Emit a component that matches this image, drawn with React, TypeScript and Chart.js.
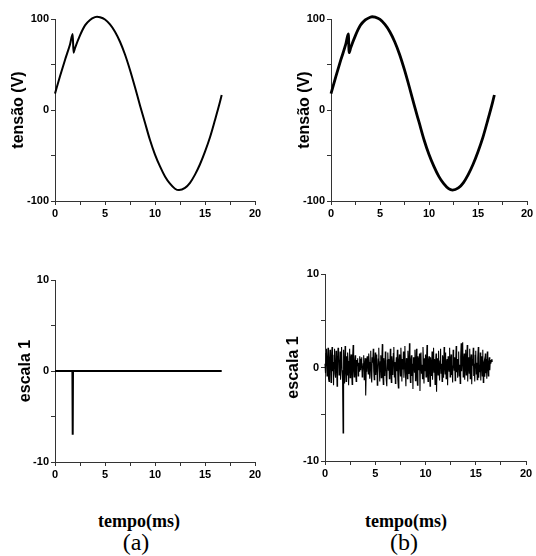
import React, { useEffect, useRef } from 'react';
import { Chart, registerables } from 'chart.js';

Chart.register(...registerables);

// ---- data ----
const TIME_MAX = 20;
const SAMPLE_STEP = 0.05; // ms between noise samples

const SINE_T = [0, 0.5, 1.0, 1.5, 1.77, 1.85, 2.0, 2.5, 3.0, 3.5, 4.0, 4.2, 4.5, 5.0, 5.5, 6.0, 6.5, 7.0, 7.5, 8.0, 8.5, 9.0, 9.5, 10.0, 10.5, 11.0, 11.5, 12.0, 12.4, 13.0, 13.5, 14.0, 14.5, 15.0, 15.5, 16.0, 16.5, 16.67];
const SINE_V = [18, 37, 55, 72, 83.5, 63, 68, 82, 93, 99, 102, 102.5, 102, 99.5, 94, 86, 75, 61, 44, 25, 5, -14, -33, -49, -62, -73, -81, -86.5, -88, -85.6, -80, -71, -59.6, -45.8, -30, -11, 9, 16.5];

const SCALE1_T = [0, 1.74, 1.77, 1.8, 16.67];
const SCALE1_V = [0, 0, -7, 0, 0];

const NOISY_SCALE1_V = [
  0.4, -0.6, 1.5, 2.0, -0.9, 0.3, 2.1, -1.2, -1.5, 0.8,
  1.9, 0.2, -1.6, 1.1, 2.2, -0.4, 0.6, -1.9, 1.3, 2.0,
  -0.7, -1.1, 1.8, 0.5, -2.0, 0.9, 2.1, 1.0, -0.8, 0.2,
  1.7, -1.3, 0.6, 2.2, -0.3, -1.4, -7.0, 1.9, 0.4, -1.7,
  2.3, 0.1, -1.5, 1.2, -0.8, 1.6, 0.7, -1.9, 0.3, 2.0,
  -1.1, 0.9, 1.4, -0.5, -1.8, 1.1, 2.4, -0.2, -1.0, 0.6,
  1.3, -0.6, -1.5, 0.8, 0.2, 1.0, -0.9, 0.5, -0.4, 1.2,
  0.9, -0.3, 0.7, 1.1, -1.0, -0.5, 0.4, 1.3, -1.3, 0.2,
  1.0, -3.0, -0.4, 0.8, 1.2, 0.1, -0.7, 1.5, 0.6, -1.2,
  0.3, 1.8, -0.9, -1.6, 1.1, 0.5, 2.0, -0.4, -1.3, 0.7,
  1.6, -0.8, 0.2, 1.4, -1.9, -0.6, 0.9, 2.1, -0.2, -1.5,
  0.6, 1.3, -1.1, 0.4, 2.5, -0.7, -1.8, 1.0, 0.3, -0.9,
  1.7, 0.5, -1.4, -2.0, 0.8, 1.6, -0.3, 0.9, -1.2, 0.4,
  2.0, -0.5, -1.6, 1.2, 0.1, -0.8, 1.5, 2.2, -1.0, 0.6,
  -1.7, 0.3, 1.1, -0.4, 1.9, -1.3, -2.2, 0.7, 1.4, 0.0,
  -0.9, 2.1, 0.6, -1.5, 0.9, -0.2, 1.7, -1.1, 0.4, 2.3,
  -0.6, -2.0, 1.0, 0.5, -1.2, 1.8, 0.2, -0.7, 2.6, -0.3,
  -1.6, 0.8, 1.3, -0.9, 0.4, -2.3, 1.1, 0.6, -0.5, 1.9,
  -1.4, 0.2, 2.0, -0.8, -1.9, 1.2, 0.7, -0.3, 1.5, -2.5,
  0.9, 1.6, -0.6, 0.3, -1.2, 2.2, 0.5, -1.7, 1.0, -0.4,
  1.4, -1.0, 0.6, 2.4, -0.7, -1.5, 0.8, 1.2, -0.2, -2.0,
  1.1, 0.4, -0.9, 1.7, -1.3, 0.2, 2.1, -0.5, 0.9, -1.8,
  0.5, 1.5, -2.6, 0.3, 1.0, -0.8, 1.8, -0.1, -1.4, 0.7,
  2.0, -0.6, 0.4, -1.5, 1.3, 0.8, -1.1, 2.2, 0.1, -0.7,
  1.6, -1.2, 0.5, 0.9, -1.9, 1.2, 0.3, -0.4, 2.1, -1.0,
  0.7, 1.4, -0.8, 0.2, -1.6, 1.9, 0.6, -0.3, 1.1, -1.4,
  0.4, 2.3, -0.5, 0.9, -1.1, 0.6, 1.7, -0.9, 0.3, -1.7,
  1.2, 2.6, -0.4, 0.8, 2.7, -1.0, 0.5, 1.5, -1.3, 0.2,
  1.9, -0.8, 0.7, 2.4, -1.5, 0.3, 1.1, -0.6, 2.0, -1.2,
  0.6, 1.4, -1.8, 0.9, 0.2, 2.1, -0.9, 0.4, -1.5, 1.3,
  1.8, -0.7, 0.5, -1.3, 1.0, 2.2, -1.1, 0.3, -0.5, 1.6,
  -1.4, 0.8, 1.2, -0.9, 1.9, -1.6, 0.4, 0.7, -1.0, 1.5,
  -0.6, 0.9, -1.2, 1.7, 0.3, -0.9, 0.5, 1.1, -0.3, 0.8,
  0.4, 0.7, 0.9, 0.6,
];

const X_LABEL = 'tempo(ms)';
const PANEL_LABELS = ['(a)', '(b)'];

type Panel = {
  left: number; top: number; width: number; height: number;
  chartL: number; chartT: number; chartR: number; chartB: number;
  yMin: number; yMax: number; yStep: number;
  yTitle: string; titleSize: number; titleCenter: number;
  xs: number[]; ys: number[]; lineWidth: number; smooth: boolean;
};

const noiseTimes = NOISY_SCALE1_V.map((_, i) => Math.round(i * SAMPLE_STEP * 100) / 100);

const PANELS: Panel[] = [
  { left: 0, top: 0, width: 268, height: 230, chartL: 55, chartT: 19, chartR: 255, chartB: 201,
    yMin: -100, yMax: 100, yStep: 50, yTitle: 'tensão (V)', titleSize: 16, titleCenter: 19,
    xs: SINE_T, ys: SINE_V, lineWidth: 2, smooth: true },
  { left: 268, top: 0, width: 268, height: 230, chartL: 331, chartT: 19, chartR: 527, chartB: 201,
    yMin: -100, yMax: 100, yStep: 50, yTitle: 'tensão (V)', titleSize: 16, titleCenter: 37,
    xs: SINE_T, ys: SINE_V, lineWidth: 2.8, smooth: true },
  { left: 0, top: 230, width: 268, height: 262, chartL: 55, chartT: 280, chartR: 255, chartB: 462,
    yMin: -10, yMax: 10, yStep: 5, yTitle: 'escala 1', titleSize: 16, titleCenter: 26,
    xs: SCALE1_T, ys: SCALE1_V, lineWidth: 2, smooth: false },
  { left: 268, top: 230, width: 268, height: 262, chartL: 325, chartT: 274, chartR: 526, chartB: 461,
    yMin: -10, yMax: 10, yStep: 5, yTitle: 'escala 1', titleSize: 16, titleCenter: 26,
    xs: noiseTimes, ys: NOISY_SCALE1_V, lineWidth: 1.1, smooth: false },
];

const TICK_FONT = { family: '"Liberation Sans", Arial, sans-serif', weight: 'bold' as const, size: 11 };

function PanelChart({ p }: { p: Panel }) {
  const ref = useRef<HTMLCanvasElement | null>(null);
  useEffect(() => {
    if (!ref.current) return;
    const yw = p.chartL - p.left;
    const xh = p.top + p.height - p.chartB;
    const padTop = p.chartT - p.top;
    const padRight = p.left + p.width - p.chartR;
    const chart = new Chart(ref.current, {
      type: 'line',
      data: {
        datasets: [{
          data: p.xs.map((x, i) => ({ x, y: p.ys[i] })),
          borderColor: '#000',
          borderWidth: p.lineWidth,
          pointRadius: 0,
          fill: false,
          tension: 0,
          clip: false,
          cubicInterpolationMode: p.smooth ? 'monotone' : 'default',
          borderJoinStyle: 'miter',
        }],
      },
      options: {
        responsive: false,
        animation: false,
        layout: { padding: { left: 0, top: padTop, right: padRight, bottom: 0 } },
        plugins: { legend: { display: false }, tooltip: { enabled: false } },
        scales: {
          x: {
            type: 'linear', min: 0, max: TIME_MAX,
            ticks: {
              stepSize: 2.5, autoSkip: false, maxRotation: 0, padding: 2,
              color: '#000', font: TICK_FONT,
              callback: (v: any) => (Number(v) % 5 === 0 ? String(v) : ''),
            },
            grid: { drawOnChartArea: false, drawTicks: true, tickLength: 4, color: '#333', lineWidth: 1 },
            border: { display: true, color: '#333', width: 1 },
            afterFit: (s: any) => { s.height = xh; },
          },
          y: {
            type: 'linear', min: p.yMin, max: p.yMax,
            ticks: {
              stepSize: p.yStep, autoSkip: false, padding: 2,
              color: '#000', font: TICK_FONT,
              callback: (v: any) => (Number(v) % (p.yStep * 2) === 0 ? String(v) : ''),
            },
            grid: { drawOnChartArea: false, drawTicks: true, tickLength: 4, color: '#333', lineWidth: 1 },
            border: { display: true, color: '#333', width: 1 },
            title: {
              display: true, text: p.yTitle, color: '#000',
              font: { family: '"Liberation Sans", Arial, sans-serif', weight: 'bold', size: p.titleSize, lineHeight: 1.2 },
              padding: { top: p.titleCenter - (p.titleSize * 1.2) / 2, bottom: 0 },
            },
            afterFit: (s: any) => { s.width = yw; },
          },
        },
      } as any,
    });
    return () => chart.destroy();
  }, [p]);
  return (
    <canvas
      ref={ref}
      width={p.width}
      height={p.height}
      style={{ position: 'absolute', left: p.left, top: p.top, width: p.width, height: p.height }}
    />
  );
}

const textStyle = (x: number, y: number, size: number, bold: boolean): React.CSSProperties => ({
  position: 'absolute', left: x, top: y, transform: 'translate(-50%, -50%)',
  fontFamily: '"Liberation Serif", "Times New Roman", serif', fontSize: size,
  fontWeight: bold ? 'bold' : 'normal', lineHeight: 1, whiteSpace: 'nowrap', color: '#000',
});

export default function App() {
  return (
    <div style={{ position: 'absolute', left: 0, top: 0, width: 536, height: 556, background: '#fff', overflow: 'hidden' }}>
      {PANELS.map((p, i) => <PanelChart key={i} p={p} />)}
      <div style={textStyle(139, 521, 18, true)}>{X_LABEL}</div>
      <div style={textStyle(406, 521, 18, true)}>{X_LABEL}</div>
      <div style={textStyle(136, 542, 24, false)}>{PANEL_LABELS[0]}</div>
      <div style={textStyle(404, 542, 24, false)}>{PANEL_LABELS[1]}</div>
    </div>
  );
}
